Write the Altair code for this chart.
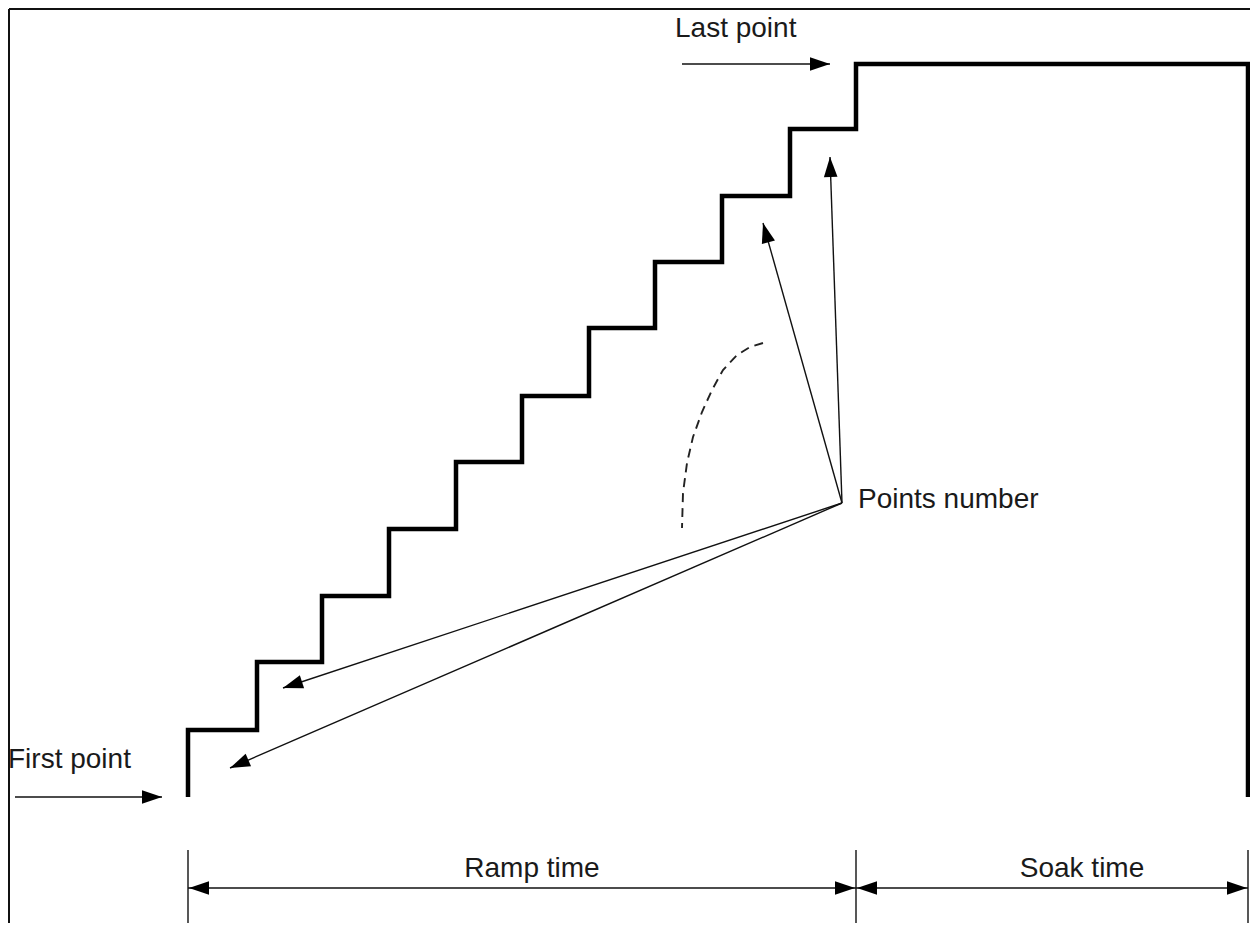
import math
import altair as alt
import pandas as pd

# ---- diagram values (reference pixel coordinates) ----
ramp_x = [188, 257, 322, 389, 456, 522, 589, 655, 722, 790, 856]
ramp_levels = [797, 730, 662, 596, 529, 462, 396, 328, 262, 196, 129, 64]
soak_end_x = 1248

pointer_origin = [842, 503]
pointer_tips_x = [830, 763, 283, 230]
pointer_tips_y = [157, 223, 688, 768]

arc_x = [763, 750, 737, 723, 712, 702, 693, 687, 683, 682]
arc_y = [343, 347, 355, 370, 390, 412, 437, 463, 493, 528]

label_text = ["Last point", "First point", "Points number", "Ramp time", "Soak time"]
label_x = [675, 8, 858, 532, 1082]
label_y = [37, 768, 508, 877, 877]
label_align = ["left", "left", "left", "center", "center"]

# simple arrows: tail -> tip
arrow_x1 = [682, 15]
arrow_y1 = [64, 797]
arrow_x2 = [830, 162]
arrow_y2 = [64, 797]

dim_y = 888
dim_x = [188, 856, 1248]
ext_top = 850
ext_bottom = 923

W, H = 1242, 915
xs = alt.Scale(domain=[8, 8 + W], range=[0, W])
ys = alt.Scale(domain=[8 + H, 8], range=[H, 0])

# ---- build tables ----
pts = []
for i in range(len(ramp_x)):
    pts.append((ramp_x[i], ramp_levels[i]))
    pts.append((ramp_x[i], ramp_levels[i + 1]))
pts.append((soak_end_x, ramp_levels[-1]))
pts.append((soak_end_x, ramp_levels[0]))
stair = pd.DataFrame({"x": [p[0] for p in pts], "y": [p[1] for p in pts], "o": list(range(len(pts)))})

segs = []
heads = []
def add_arrow(x1, y1, x2, y2):
    segs.append({"x": x1, "y": y1, "x2": x2, "y2": y2})
    ang = math.degrees(math.atan2(x2 - x1, -(y2 - y1))) % 360
    heads.append({"x": x2, "y": y2, "a": ang})

for tx, ty in zip(pointer_tips_x, pointer_tips_y):
    add_arrow(pointer_origin[0], pointer_origin[1], tx, ty)
for a, b, c, d in zip(arrow_x1, arrow_y1, arrow_x2, arrow_y2):
    add_arrow(a, b, c, d)
# dimension lines with heads at both ends
for i in range(len(dim_x) - 1):
    l, r = dim_x[i], dim_x[i + 1]
    segs.append({"x": l, "y": dim_y, "x2": r, "y2": dim_y})
    heads.append({"x": l + 1, "y": dim_y, "a": 270.0})
    heads.append({"x": r - 1, "y": dim_y, "a": 90.0})
seg_df = pd.DataFrame(segs)
head_df = pd.DataFrame(heads)

ext_df = pd.DataFrame({"x": dim_x, "y": [ext_top] * 3, "x2": dim_x, "y2": [ext_bottom] * 3})

arc_df = pd.DataFrame({"x": arc_x, "y": arc_y, "o": list(range(len(arc_x)))})
lab_df = pd.DataFrame({"x": label_x, "y": label_y, "t": label_text, "al": label_align})

frame_df = pd.DataFrame({
    "x": [9, 9],
    "y": [9, 9],
    "x2": [1250, 9],
    "y2": [9, 923],
})

X = lambda f="x": alt.X(f"{f}:Q", scale=xs, axis=None)
Y = lambda f="y": alt.Y(f"{f}:Q", scale=ys, axis=None)

frame = alt.Chart(frame_df).mark_rule(color="#111", strokeWidth=2).encode(
    x=X(), y=Y(), x2="x2:Q", y2="y2:Q")

stairs = alt.Chart(stair).mark_line(color="black", strokeWidth=4.5, strokeJoin="miter").encode(
    x=X(), y=Y(), order="o:Q")

lines = alt.Chart(seg_df).mark_rule(color="#111", strokeWidth=1.4).encode(
    x=X(), y=Y(), x2="x2:Q", y2="y2:Q")

ext = alt.Chart(ext_df).mark_rule(color="#111", strokeWidth=1.4).encode(
    x=X(), y=Y(), x2="x2:Q", y2="y2:Q")

arrowhead = "M0,0L0.68,2L-0.68,2Z"
heads_layer = alt.Chart(head_df).mark_point(
    shape=arrowhead, filled=True, color="black", size=400, opacity=1, strokeWidth=0
).encode(x=X(), y=Y(), angle=alt.Angle("a:Q", scale=None))

arc = alt.Chart(arc_df).mark_line(color="#222", strokeWidth=1.9, strokeDash=[9, 6]).encode(
    x=X(), y=Y(), order="o:Q")

texts_left = alt.Chart(lab_df[lab_df.al == "left"]).mark_text(
    align="left", baseline="alphabetic", font="Liberation Sans", fontSize=28, color="#1a1a1a"
).encode(x=X(), y=Y(), text="t:N")
texts_center = alt.Chart(lab_df[lab_df.al == "center"]).mark_text(
    align="center", baseline="alphabetic", font="Liberation Sans", fontSize=28, color="#1a1a1a"
).encode(x=X(), y=Y(), text="t:N")

chart = alt.layer(frame, stairs, lines, ext, heads_layer, arc, texts_left, texts_center).properties(
    width=W, height=H, autosize=alt.AutoSizeParams(type="none"), padding=0, background="white"
).configure_view(strokeWidth=0)

chart.save("out.html", embed_options={"renderer": "svg", "actions": False})
